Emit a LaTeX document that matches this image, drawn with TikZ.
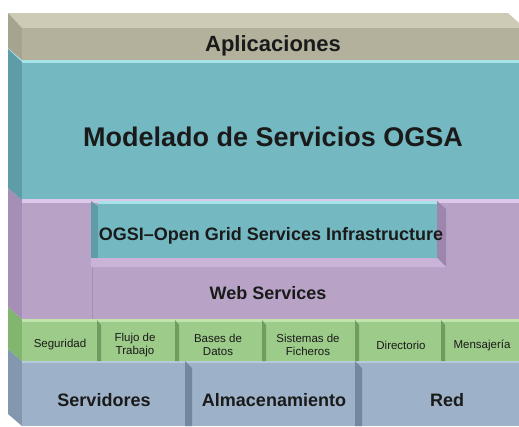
\documentclass[tikz,border=0pt]{standalone}
\usepackage{fontspec}
\setmainfont{Liberation Sans}
\definecolor{khF}{HTML}{B3B19C}
\definecolor{khT}{HTML}{CDCBB6}
\definecolor{khS}{HTML}{A6A48F}
\definecolor{cyF}{HTML}{74B9C2}
\definecolor{cyS}{HTML}{5E9DA7}
\definecolor{cyH}{HTML}{A8E2E9}
\definecolor{puF}{HTML}{B8A3C7}
\definecolor{puS}{HTML}{A68FB6}
\definecolor{puH}{HTML}{DCC8E8}
\definecolor{puL}{HTML}{C9B4D8}
\definecolor{puB}{HTML}{9C86AD}
\definecolor{grF}{HTML}{9DCB89}
\definecolor{grS}{HTML}{80B66D}
\definecolor{grH}{HTML}{BFE5AC}
\definecolor{grD}{HTML}{6F9D5F}
\definecolor{blF}{HTML}{9DB2C9}
\definecolor{blS}{HTML}{8398AF}
\definecolor{blH}{HTML}{B7C9DC}
\definecolor{blD}{HTML}{73879E}
\definecolor{txt}{HTML}{1A1A1A}
\tikzset{
  big/.style={font=\fontsize{18}{20}\selectfont\bfseries, text=txt, inner sep=0pt},
  small/.style={font=\fontsize{11.5}{13}\selectfont, text=txt, align=center, inner sep=0pt},
}
\begin{document}
\begin{tikzpicture}[x=1pt,y=-1pt]
\useasboundingbox (0,0) rectangle (519,426);
\fill[white] (0,0) rectangle (519,426);
% ---- blue layer
\fill[blS] (8,349) -- (22,361) -- (22,426) -- (8,414) -- cycle;
\fill[blF] (22,361) rectangle (519,426);
\fill[blH] (22,361) rectangle (519,363);
\fill[blD] (185,361) -- (192,368) -- (192,426) -- (185,426) -- cycle;
\fill[blD] (355,361) -- (362,368) -- (362,426) -- (355,426) -- cycle;
% ---- green layer
\fill[grS] (8,307) -- (22,319) -- (22,361) -- (8,349) -- cycle;
\fill[grF] (22,319) rectangle (519,361);
\fill[grH] (22,319) rectangle (519,321.5);
\foreach \sx in {97,175,262,355,441}
  \fill[grD] (\sx,320) -- (\sx+4,325) -- (\sx+4,361) -- (\sx,361) -- cycle;
% ---- purple layer
\fill[puS] (8,188) -- (22,200) -- (22,319) -- (8,307) -- cycle;
\fill[puF] (22,200) rectangle (519,319);
\fill[puH] (22,199) rectangle (519,202.5);
\draw[puB!70!puF, line width=0.8pt] (92,262) -- (92,319);
% OGSI block
\fill[cyS] (91,201) -- (99,207) -- (99,258) -- (91,258) -- cycle;
\fill[cyF] (98,201) rectangle (437,258);
\fill[cyH] (98,201) rectangle (437,203.5);
\fill[puB] (437,201) -- (446,209) -- (446,267) -- (437,258) -- cycle;
\fill[puL] (91,258) -- (437,258) -- (446,267) -- (91,267) -- cycle;
% ---- cyan layer
\fill[cyS] (8,48) -- (22,60) -- (22,200) -- (8,188) -- cycle;
\fill[cyF] (22,60) rectangle (519,199);
\fill[cyH] (22,60) rectangle (519,62.5);
\draw[cyH, line width=1.2pt] (8,48) -- (22,61);
% ---- khaki layer
\fill[khT] (8,13) -- (508,13) -- (519,23) -- (519,28) -- (22,28) -- cycle;
\fill[khS] (8,13) -- (22,28) -- (22,60) -- (8,48) -- cycle;
\fill[khF] (22,28) rectangle (519,60);
% ---- labels
\node[big, font=\fontsize{22}{24}\selectfont\bfseries] (apl) at (273,46) {Aplicaciones};
\node[big, font=\fontsize{27}{30}\selectfont\bfseries] (ogsa) at (273,137) {Modelado de Servicios OGSA};
\node[big] (ogsi) at (271,236) {OGSI–Open Grid Services Infrastructure};
\node[big] (ws) at (268,293) {Web Services};
\node[small] (seg) at (60,345) {Seguridad};
\node[small] (flu) at (135,345) {Flujo de\\Trabajo};
\node[small] (bas) at (218,345) {Bases de\\Datos};
\node[small] (sis) at (308,345) {Sistemas de\\Ficheros};
\node[small] (dir) at (401,345) {Directorio};
\node[small] (men) at (482,345) {Mensajería};
\node[big] (srv) at (104,400) {Servidores};
\node[big] (alm) at (274,400) {Almacenamiento};
\node[big] (red) at (447,400) {Red};
\end{tikzpicture}
\end{document}
